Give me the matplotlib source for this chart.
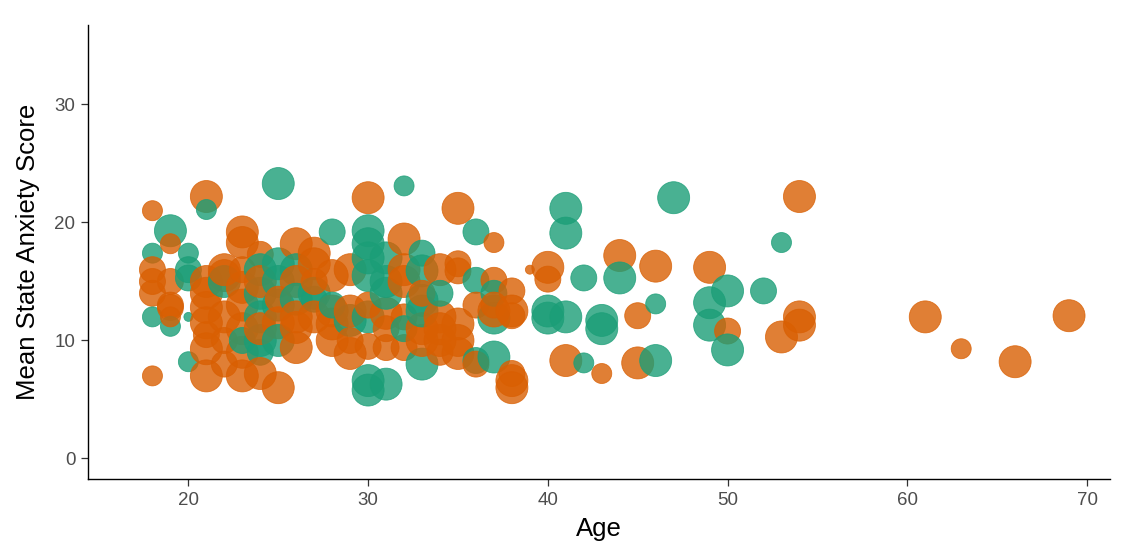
import numpy as np
import matplotlib.pyplot as plt

plt.rcParams['font.family'] = ['Liberation Sans', 'DejaVu Sans']

# age, mean score, group (T = teal, O = orange), bubble size (L/M/S/X)
ages = [18, 18, 18, 18, 18, 18, 18,
        19, 19, 19, 19, 19, 19, 19,
        20, 20, 20, 20, 20,
        21, 21, 21, 21, 21, 21, 21, 21, 21,
        22, 22, 22, 22, 22, 22,
        23, 23, 23, 23, 23, 23, 23, 23, 23,
        24, 24, 24, 24, 24, 24, 24, 24, 24,
        25, 25, 25, 25, 25, 25, 25, 25,
        26, 26, 26, 26, 26, 26, 26,
        27, 27, 27, 27, 27, 27,
        28, 28, 28, 28, 28, 28,
        29, 29, 29, 29, 29,
        30, 30, 30, 30, 30, 30, 30, 30, 30, 30,
        31, 31, 31, 31, 31, 31, 31,
        32, 32, 32, 32, 32, 32, 32,
        33, 33, 33, 33, 33, 33, 33, 33,
        34, 34, 34, 34, 34, 34,
        35, 35, 35, 35, 35, 35,
        36, 36, 36, 36, 36,
        37, 37, 37, 37, 37, 37, 37,
        38, 38, 38, 38, 38, 38,
        39,
        40, 40, 40, 40,
        41, 41, 41, 41,
        42, 42,
        43, 43, 43,
        44, 44,
        45, 45,
        46, 46, 46,
        47,
        49, 49, 49,
        50, 50, 50,
        52, 53, 53, 54, 54, 54,
        61, 63, 66, 69]
scores = [21, 17.4, 16, 14, 12, 7, 15,
          19.3, 18.2, 15, 13, 12.8, 11.2, 12,
          17.4, 16, 15.3, 12, 8.2,
          22.2, 21.1, 15, 14, 12.8, 11.5, 9.3, 7, 10.5,
          15.5, 15, 12, 10, 8, 16,
          19.2, 18.3, 14.5, 13, 11, 9, 7, 10, 16,
          17.3, 16, 14, 12, 10, 9, 7.2, 15, 11,
          23.3, 16.5, 15, 13, 11.5, 10, 6, 13.5,
          18.2, 16, 15, 13.5, 11.1, 9.4, 12,
          17.4, 16.5, 14, 13.5, 15, 12,
          19.2, 15.5, 12.5, 11.4, 10, 13,
          16, 11.7, 8.9, 12.5, 10,
          22.1, 19.3, 18.2, 15.5, 12, 6.6, 5.8, 13, 9.5, 17,
          12.3, 14, 15, 6.3, 9.4, 17, 11,
          23.1, 18.6, 16, 9.4, 15, 12, 11,
          17.4, 13.4, 8, 15.9, 11, 10, 12.5, 14,
          16, 12, 10, 14, 9, 11,
          21.2, 16.5, 15.9, 11.4, 8.9, 10,
          19.2, 15.1, 8.3, 13, 8,
          18.3, 15.1, 11.9, 8.6, 12.5, 14, 13,
          14.2, 12.1, 6.6, 7.2, 12.5, 6,
          16,
          16.2, 15.2, 11.9, 12.5,
          21.2, 19.1, 12, 8.3,
          15.3, 8.1,
          11.7, 11, 7.2,
          17.2, 15.3,
          12.1, 8.1,
          16.3, 13.1, 8.3,
          22.1,
          16.2, 13.2, 11.3,
          14.2, 10.8, 9.2,
          14.2, 18.3, 10.3, 22.2, 12, 11.3,
          12, 9.3, 8.2, 12.1]
groups = ['O', 'T', 'O', 'O', 'T', 'O', 'O',
          'T', 'O', 'O', 'O', 'O', 'T', 'O',
          'T', 'T', 'T', 'T', 'T',
          'O', 'T', 'O', 'O', 'O', 'O', 'O', 'O', 'O',
          'O', 'T', 'O', 'O', 'O', 'O',
          'O', 'O', 'O', 'O', 'O', 'O', 'O', 'T', 'O',
          'O', 'T', 'T', 'T', 'T', 'T', 'O', 'O', 'O',
          'T', 'T', 'T', 'T', 'O', 'T', 'O', 'O',
          'O', 'T', 'O', 'T', 'O', 'O', 'O',
          'O', 'O', 'T', 'T', 'O', 'O',
          'T', 'O', 'O', 'O', 'O', 'T',
          'O', 'T', 'O', 'O', 'O',
          'O', 'T', 'T', 'T', 'T', 'T', 'T', 'O', 'O', 'T',
          'O', 'T', 'T', 'T', 'O', 'T', 'O',
          'T', 'O', 'O', 'O', 'O', 'O', 'T',
          'T', 'T', 'T', 'T', 'O', 'O', 'T', 'O',
          'O', 'O', 'O', 'T', 'O', 'O',
          'O', 'O', 'O', 'O', 'O', 'O',
          'T', 'T', 'T', 'O', 'O',
          'O', 'O', 'T', 'T', 'O', 'T', 'O',
          'O', 'O', 'O', 'O', 'O', 'O',
          'O',
          'O', 'O', 'T', 'T',
          'T', 'T', 'T', 'O',
          'T', 'T',
          'T', 'T', 'O',
          'O', 'T',
          'O', 'O',
          'O', 'T', 'T',
          'T',
          'O', 'T', 'T',
          'T', 'O', 'T',
          'T', 'T', 'O', 'O', 'O', 'O',
          'O', 'O', 'O', 'O']
sizes = ['S', 'S', 'M', 'M', 'S', 'S', 'M',
         'L', 'S', 'M', 'M', 'M', 'S', 'S',
         'S', 'M', 'M', 'X', 'S',
         'L', 'S', 'L', 'L', 'L', 'L', 'L', 'L', 'M',
         'L', 'L', 'L', 'M', 'M', 'L',
         'L', 'L', 'L', 'L', 'L', 'L', 'L', 'M', 'M',
         'M', 'L', 'L', 'L', 'L', 'M', 'L', 'L', 'L',
         'L', 'L', 'L', 'L', 'L', 'L', 'L', 'M',
         'L', 'L', 'L', 'L', 'L', 'L', 'L',
         'L', 'L', 'L', 'M', 'M', 'L',
         'M', 'L', 'L', 'L', 'L', 'M',
         'L', 'L', 'L', 'L', 'M',
         'L', 'L', 'L', 'L', 'L', 'L', 'L', 'M', 'M', 'L',
         'L', 'L', 'L', 'L', 'M', 'L', 'M',
         'S', 'L', 'L', 'M', 'L', 'M', 'M',
         'M', 'L', 'L', 'L', 'L', 'L', 'L', 'M',
         'L', 'L', 'L', 'M', 'M', 'L',
         'L', 'M', 'M', 'L', 'L', 'L',
         'M', 'M', 'M', 'M', 'M',
         'S', 'M', 'L', 'L', 'L', 'M', 'M',
         'M', 'M', 'L', 'M', 'L', 'L',
         'X',
         'L', 'M', 'L', 'L',
         'L', 'L', 'L', 'L',
         'M', 'S',
         'L', 'L', 'S',
         'L', 'L',
         'M', 'L',
         'L', 'S', 'L',
         'L',
         'L', 'L', 'L',
         'L', 'M', 'L',
         'M', 'S', 'L', 'L', 'L', 'L',
         'L', 'S', 'L', 'L']

colours = {'T': '#1B9E77', 'O': '#D95F02'}
diam_px = {'L': 32, 'M': 26, 'S': 20, 'X': 9}
area = {k: (v * 0.72) ** 2 for k, v in diam_px.items()}

fig = plt.figure(figsize=(11.25, 5.52), dpi=100)
ax = fig.add_axes([0.078, 0.132, 0.909, 0.823])

c = [colours[g] for g in groups]
s = [area[k] for k in sizes]
ax.scatter(ages, scores, s=s, c=c, alpha=0.8, edgecolors=c, linewidths=0.6)

ax.set_xlim(14.4, 71.3)
ax.set_ylim(-1.75, 36.75)
ax.set_xticks([20, 30, 40, 50, 60, 70])
ax.set_yticks([0, 10, 20, 30])
for side in ['top', 'right']:
    ax.spines[side].set_visible(False)
for side in ['left', 'bottom']:
    ax.spines[side].set_color('black')
    ax.spines[side].set_linewidth(1.0)
ax.tick_params(colors='#333333', labelcolor='#4D4D4D', labelsize=13.5, length=5, width=0.9, pad=4)

ax.set_xlabel('Age', fontsize=18.5, color='black', labelpad=6)
ax.set_ylabel('Mean State Anxiety Score', fontsize=18.5, color='black', labelpad=10)

fig.savefig('out.png', dpi=100)
